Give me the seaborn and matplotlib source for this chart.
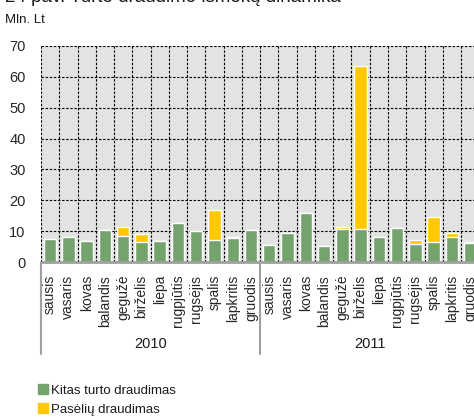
import matplotlib
matplotlib.use('Agg')
import matplotlib.pyplot as plt
import matplotlib.transforms as mtransforms
from matplotlib.patches import Patch
import pandas as pd
import seaborn as sns

# data (Mln. Lt)
months = ['sausis', 'vasaris', 'kovas', 'balandis', 'gegužė', 'birželis',
          'liepa', 'rugpjūtis', 'rugsėjis', 'spalis', 'lapkritis', 'gruodis']
years = ['2010', '2011']
kitas_2010 = [7.4, 8.1, 6.9, 10.5, 8.4, 6.5, 6.9, 12.6, 10.1, 7.3, 7.9, 10.4]
paseliu_2010 = [0, 0, 0, 0, 3.1, 2.6, 0, 0, 0, 9.6, 0.2, 0]
kitas_2011 = [5.6, 9.4, 15.8, 5.4, 10.7, 10.7, 8.1, 11.1, 6.0, 6.6, 8.2, 6.3]
paseliu_2011 = [0, 0, 0, 0, 0.7, 52.7, 0.2, 0, 1.2, 8.1, 1.2, 0.3]

green = '#75a36e'
yellow = '#ffc800'

sns.set_style('white')
plt.rcParams['font.family'] = ['Liberation Sans', 'DejaVu Sans']
plt.rcParams['font.size'] = 10
plt.rcParams['text.color'] = '#1a1a1a'

df = pd.DataFrame({
    'key': [f'{y}-{m}' for y in years for m in months],
    'month': months * 2,
    'kitas': kitas_2010 + kitas_2011,
    'paseliu': paseliu_2010 + paseliu_2011,
})
df['total'] = df['kitas'] + df['paseliu']

fig = plt.figure(figsize=(4.74, 4.17), dpi=100)
# plot area runs past the right edge of the picture, as in the reference
ax = fig.add_axes([41 / 474, 154.7 / 417, 438.3 / 474, 216.6 / 417])
ax.set_facecolor('#e1e4e0')

# stacked bars: total in yellow, green drawn over it
sns.barplot(data=df, x='key', y='total', order=df['key'], color=yellow,
            width=0.68, saturation=1, ax=ax)
sns.barplot(data=df, x='key', y='kitas', order=df['key'], color=green,
            width=0.68, saturation=1, ax=ax)

ax.set_xlim(-0.5, len(df) - 0.5)
ax.set_ylim(0, 70)
ax.set_yticks(range(0, 71, 10))
ax.set_xticks(range(len(df)))
ax.set_xticklabels(df['month'], rotation=90, va='top')
ax.set_xticks([i - 0.5 for i in range(len(df) + 1)], minor=True)
ax.set_xlabel('')
ax.set_ylabel('')

ax.set_axisbelow(True)
grid_kw = dict(color='black', linestyle=(0, (2.2, 1.5)), linewidth=0.8)
ax.yaxis.grid(True, **grid_kw)
ax.xaxis.grid(True, which='minor', **grid_kw)
ax.xaxis.grid(False, which='major')

for s in ['top', 'left', 'right']:
    ax.spines[s].set_visible(False)
ax.spines['bottom'].set_color('#a0a0a0')
ax.spines['bottom'].set_linewidth(2)
ax.tick_params(axis='y', length=0, pad=11, labelsize=10.5)
ax.tick_params(axis='x', which='both', length=0, pad=9, labelsize=10)

# year groups below the month labels
trans = mtransforms.blended_transform_factory(ax.transData, ax.transAxes)
for xs in [-0.5, 11.5, 23.5]:
    ax.plot([xs, xs], [0, -0.423], transform=trans, color='#a0a0a0',
            linewidth=1.5, clip_on=False)
for i, y in enumerate(years):
    ax.text(5.5 + 12 * i, -0.378, y, transform=trans, ha='center',
            va='center', fontsize=10.5)

fig.text(5 / 474, 1 - 2 / 417, '24 pav. Turto draudimo išmokų dinamika',
         fontsize=13.5, va='baseline', ha='left')
fig.text(5 / 474, 1 - 20 / 417, 'Mln. Lt', fontsize=9.5, va='center', ha='left')

handles = [Patch(color=green, label='Kitas turto draudimas'),
           Patch(color=yellow, label='Pasėlių draudimas')]
fig.legend(handles=handles, loc='upper left', bbox_to_anchor=(33 / 474, 1 - 379 / 417),
           frameon=False, handlelength=0.75, handleheight=0.75, handletextpad=0.2,
           labelspacing=0.5, fontsize=9.5, borderaxespad=0)

fig.savefig('out.png', dpi=100)
